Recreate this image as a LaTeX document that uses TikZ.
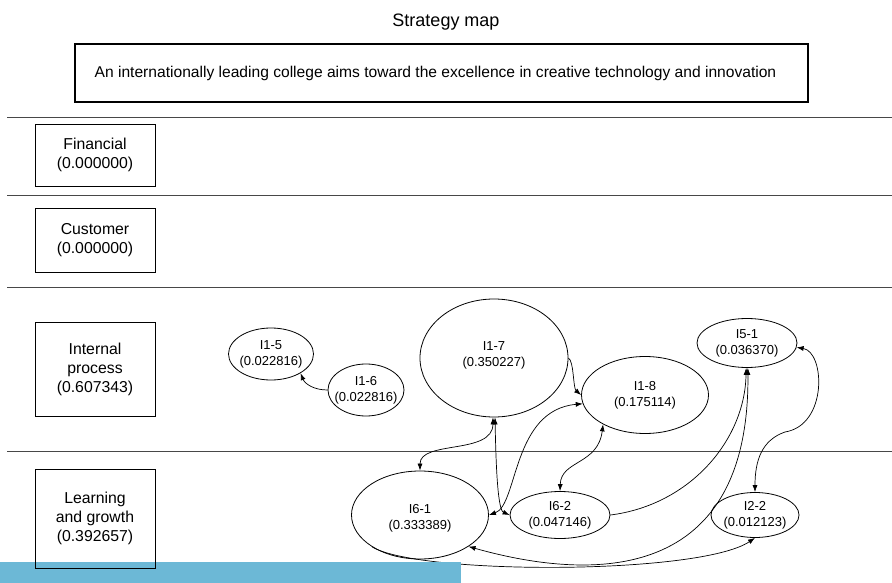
\documentclass[tikz,border=0pt]{standalone}
\usepackage{fontspec}
\setmainfont{Liberation Sans}
\usetikzlibrary{arrows.meta,shapes.geometric}
\definecolor{barblue}{RGB}{108,184,214}
\begin{document}
\begin{tikzpicture}[x=1pt,y=-1pt,
  lane/.style={draw=black!72,line width=0.9pt},
  perspective/.style={draw,line width=0.8pt,minimum width=120pt,inner sep=0pt,
    align=center,font=\fontsize{15.8}{19}\selectfont},
  measure/.style={draw,ellipse,line width=0.8pt,inner sep=0pt},
  mtext/.style={align=center,inner sep=0pt,font=\fontsize{13}{16}\selectfont},
  tip/.tip={Latex[length=7pt,width=5pt]},
  link/.style={line width=0.7pt,-tip},
  bilink/.style={line width=0.7pt,tip-tip},
]
\useasboundingbox (0,0) rectangle (892,583);
\fill[white] (0,0) rectangle (892,583);

% heading and vision statement
\node (title) at (446,22) {\fontsize{18}{20}\selectfont Strategy map};
\node[draw,line width=1.8pt,minimum width=733pt,minimum height=58pt,inner sep=0pt,
  label={[inner sep=0pt,xshift=-6pt,font=\fontsize{15.6}{17}\selectfont]center:An internationally leading college aims toward the excellence in creative technology and innovation}]
  (vision) at (441.5,73) {};

% lanes separating the four perspectives
\draw[lane] (7,117) -- (892,117);
\draw[lane] (7,195) -- (892,195);
\draw[lane] (7,287) -- (892,287);
\draw[lane] (7,451) -- (892,451);

% measures
\node[measure,minimum width=85pt,minimum height=52pt,
  label={[mtext]center:I1-5\\(0.022816)}] (i15) at (271,354) {};
\node[measure,minimum width=76pt,minimum height=52pt,
  label={[mtext]center:I1-6\\(0.022816)}] (i16) at (366,390) {};
\node[measure,minimum width=148pt,minimum height=118pt,
  label={[mtext,yshift=3pt]center:I1-7\\(0.350227)}] (i17) at (494,358) {};
\node[measure,minimum width=127pt,minimum height=77pt,
  label={[mtext]center:I1-8\\(0.175114)}] (i18) at (645,395) {};
\node[measure,minimum width=100pt,minimum height=49pt,
  label={[mtext]center:I5-1\\(0.036370)}] (i51) at (747,343) {};
\node[measure,minimum width=137pt,minimum height=88pt,
  label={[mtext,yshift=-3pt]center:I6-1\\(0.333389)}] (i61) at (420,515) {};
\node[measure,minimum width=100pt,minimum height=47pt,
  label={[mtext]center:I6-2\\(0.047146)}] (i62) at (560,515) {};
\node[measure,minimum width=88pt,minimum height=45pt,
  label={[mtext]center:I2-2\\(0.012123)}] (i22) at (755,515) {};

% causal links
\draw[link] (i16.west) .. controls (314,390) and (305,384) .. (i15.-33);
\draw[bilink] (i61.90) .. controls (420,440) and (493,455) .. (i17.-91);
\draw[bilink] (i17.-89) .. controls (496,470) and (498,510) .. (i62.west);
\draw[link] (i17.east) .. controls (574,361) and (573,388) .. (i18.west);
\draw[bilink] (i61.east) .. controls (518,505) and (512,410) .. (i18.188);
\draw[bilink] (i62.north) .. controls (561,460) and (598,465) .. (i18.-145);
\draw[link] (i62.east) .. controls (690,505) and (745,440) .. (i51.-92);
\draw[bilink] (i61.-33) .. controls (580,578) and (750,592) .. (i51.-88);
\draw[link] (i61.-146) .. controls (420,575) and (700,575) .. (i22.-90);
\draw[bilink] (i51.-5) .. controls (825,352) and (828,425) .. (785,432)
  .. controls (762,440) and (755,460) .. (i22.north);

% band along the lower edge
\fill[barblue] (0,562) rectangle (461,583);

% perspectives
\node[perspective,minimum height=62pt] (fin) at (95,155) {Financial\\(0.000000)};
\node[perspective,minimum height=64pt] (cus) at (95,240) {Customer\\(0.000000)};
\node[perspective,minimum height=94pt] (int) at (95,369) {Internal\\process\\(0.607343)};
\node[perspective,minimum height=99pt] (lrn) at (95,518.5) {Learning\\and growth\\(0.392657)};
\end{tikzpicture}
\end{document}
